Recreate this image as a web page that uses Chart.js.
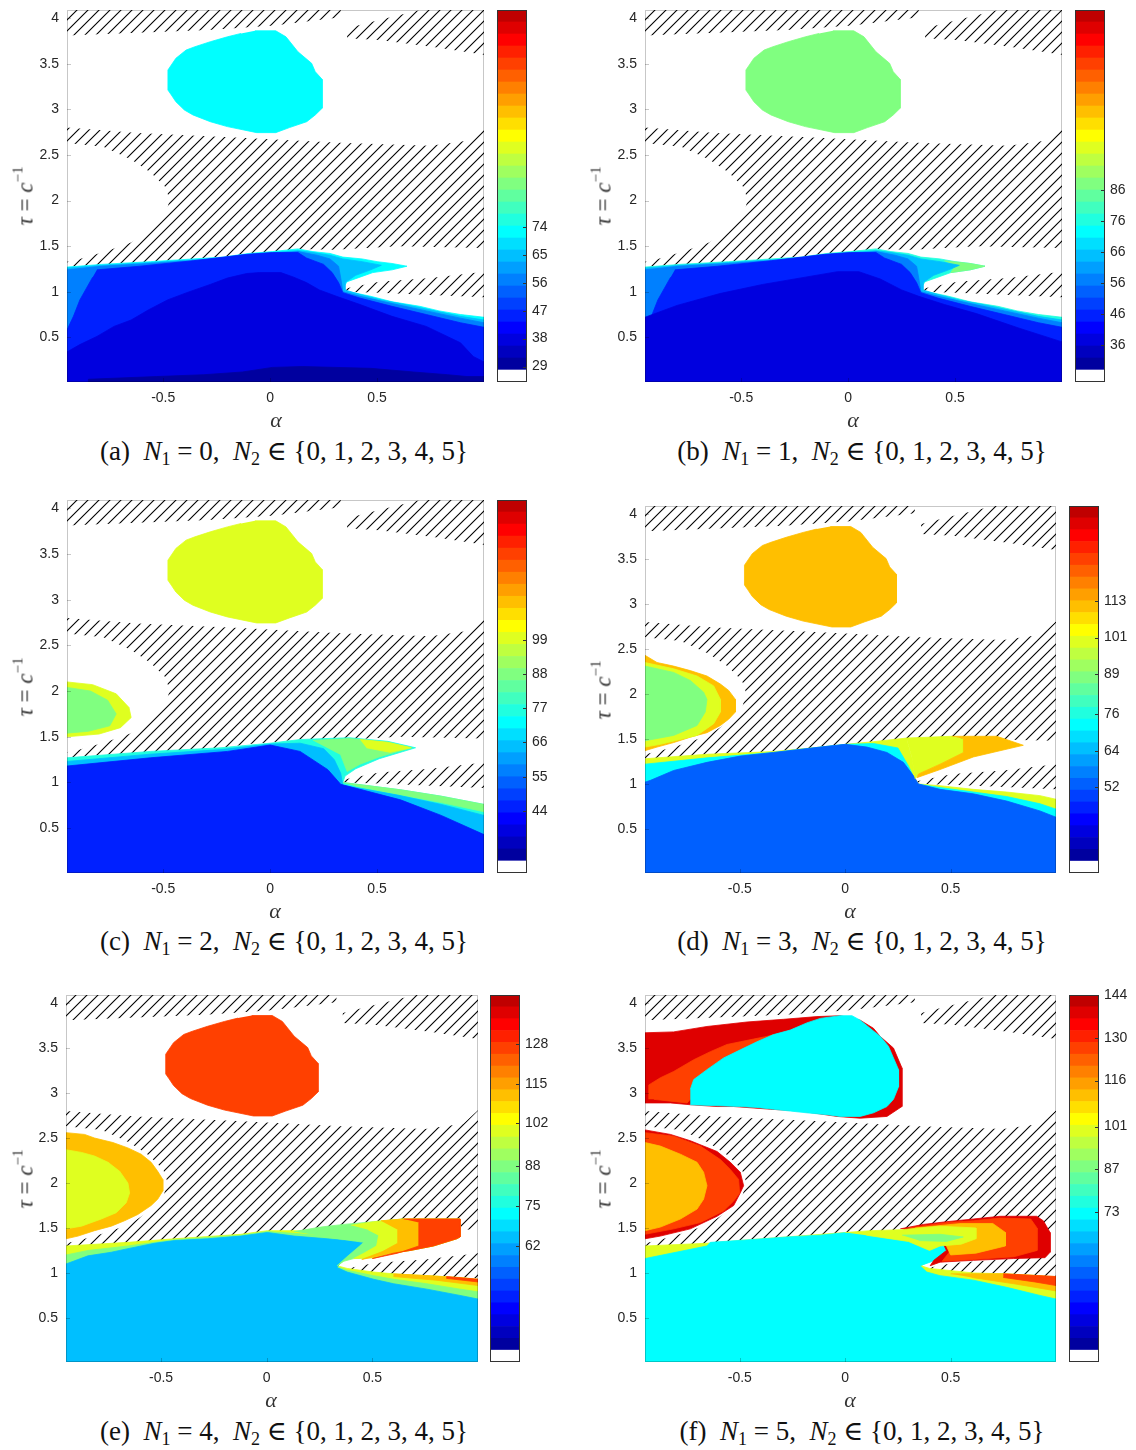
<!DOCTYPE html>
<html>
<head>
<meta charset="utf-8">
<title>Stability maps</title>
<script src="https://cdn.jsdelivr.net/npm/chart.js@4.4.1/dist/chart.umd.min.js"></script>
<style>
  body { margin: 0; background: #fff; }
  #page { position: relative; width: 1136px; height: 1450px; overflow: hidden; }
  #page canvas { position: absolute; }
  .cap { position: absolute; font-family: "Liberation Serif", "DejaVu Serif", serif; font-size: 27px; color: #111; white-space: nowrap; transform: translate(-50%, -50%); }
  .cap sub { font-size: 18px; vertical-align: -5px; }
  .xl { position: absolute; font-family: "Liberation Serif", serif; font-style: italic; font-size: 22px; color: #333; transform: translate(-50%, -50%); }
  .yl { position: absolute; font-family: "Liberation Serif", serif; font-size: 23px; color: #333; white-space: nowrap; transform: translate(-50%, -50%) rotate(-90deg); }
  .yl sup { font-size: 15px; vertical-align: 10px; }
</style>
</head>
<body>
<div id="page"></div>
<script>
// axes
const xRange = [-0.95, 1.0];
const yRange = [0.01, 4.09];
const xTicks = [-0.5, 0, 0.5];
const yTicks = [0.5, 1, 1.5, 2, 2.5, 3, 3.5, 4];

// colour bars (same range in every panel, ticks differ)
const cbRange = [24, 144];
const cbTicksA = [29, 38, 47, 56, 65, 74];
const cbTicksB = [36, 46, 56, 66, 76, 86];
const cbTicksC = [44, 55, 66, 77, 88, 99];
const cbTicksD = [52, 64, 76, 89, 101, 113];
const cbTicksE = [62, 75, 88, 102, 115, 128];
const cbTicksF = [73, 87, 101, 116, 130, 144];

// hatched regions, [alpha, tau]
const hatchTopLeft = [[-0.95,4.1],[0.33,4.1],[0.33,4.01],[0.02,3.92],[-0.29,3.87],[-0.95,3.81]];
const hatchTopRight = [[0.36,3.89],[0.51,3.98],[0.72,4.1],[1.0,4.1],[1.0,3.6],[0.78,3.68],[0.51,3.76],[0.36,3.78]];
const hatchMiddle = [[-0.95,2.80],[-0.62,2.74],[-0.14,2.69],[0.35,2.63],[0.75,2.60],[0.93,2.66],[1.0,2.81],[1.0,1.48],
  [0.6,1.50],[0.3,1.46],[0.13,1.47],[0.01,1.44],[-0.10,1.42],[-0.22,1.38],[-0.36,1.36],[-0.56,1.33],[-0.79,1.30],[-0.95,1.27],
  [-0.95,1.33],[-0.89,1.36],[-0.77,1.44],[-0.65,1.54],[-0.56,1.68],[-0.49,1.84],[-0.47,2.01],[-0.49,2.15],[-0.56,2.31],
  [-0.65,2.45],[-0.78,2.59],[-0.95,2.63]];
const hatchLower = [[0.34,1.03],[0.51,1.11],[0.75,1.15],[1.0,1.22],[1.0,0.94],[0.51,0.99],[0.34,1.0]];

// upper island (panels a-e)
const blobShape = [[-0.071,3.862],[0.026,3.862],[0.074,3.796],[0.130,3.632],[0.194,3.505],[0.211,3.413],[0.243,3.330],
  [0.243,3.012],[0.211,2.939],[0.171,2.865],[0.090,2.800],[0.026,2.745],[-0.063,2.745],[-0.200,2.811],[-0.280,2.865],
  [-0.361,2.939],[-0.401,2.993],[-0.441,3.084],[-0.462,3.158],[-0.478,3.212],[-0.478,3.432],[-0.441,3.560],[-0.393,3.651],
  [-0.352,3.687],[-0.280,3.742],[-0.200,3.796],[-0.136,3.833]];

// panel (a) lower surface layers
const surfA_env = [[-0.95,1.27],[-0.79,1.30],[-0.56,1.33],[-0.36,1.36],[-0.22,1.38],[-0.10,1.42],[0.01,1.44],[0.13,1.47],
  [0.20,1.44],[0.28,1.42],[0.34,1.38],[0.43,1.36],[0.50,1.33],[0.57,1.31],[0.64,1.28],[0.57,1.24],[0.48,1.21],[0.42,1.16],
  [0.36,1.11],[0.34,1.04],[0.34,1.01],[0.39,0.99],[0.47,0.95],[0.57,0.89],[0.70,0.84],[0.79,0.79],[0.89,0.75],[1.0,0.72],
  [1.0,0.0],[-0.95,0.0]];
const surfA_10 = [[-0.95,1.26],[-0.79,1.29],[-0.56,1.32],[-0.36,1.35],[-0.22,1.37],[-0.10,1.41],[0.01,1.43],[0.13,1.45],
  [0.20,1.43],[0.28,1.40],[0.34,1.36],[0.43,1.33],[0.52,1.29],[0.47,1.24],[0.40,1.18],[0.35,1.10],[0.35,1.02],[0.42,0.97],
  [0.52,0.91],[0.65,0.85],[0.79,0.78],[0.89,0.73],[1.0,0.69],[1.0,0.0],[-0.95,0.0]];
const surfA_8 = [[-0.95,1.24],[-0.79,1.28],[-0.56,1.31],[-0.36,1.34],[-0.10,1.40],[0.01,1.42],[0.13,1.44],[0.22,1.40],
  [0.28,1.36],[0.32,1.28],[0.33,1.15],[0.34,1.0],[0.42,0.95],[0.57,0.87],[0.73,0.79],[0.89,0.71],[1.0,0.66],[1.0,0.0],[-0.95,0.0]];
const surfA_5 = [[-0.81,1.24],[-0.61,1.28],[-0.36,1.34],[-0.11,1.41],[0.01,1.43],[0.13,1.43],[0.17,1.37],[0.25,1.30],
  [0.29,1.21],[0.32,1.10],[0.34,0.99],[0.42,0.93],[0.57,0.84],[0.73,0.75],[0.89,0.66],[1.0,0.61],[1.0,0.0],[-0.95,0.0],
  [-0.95,0.58],[-0.92,0.73],[-0.89,0.91],[-0.83,1.16]];
const surfA_3 = [[-0.95,0.34],[-0.89,0.42],[-0.81,0.51],[-0.73,0.62],[-0.65,0.69],[-0.57,0.80],[-0.48,0.91],[-0.39,0.99],
  [-0.28,1.08],[-0.20,1.15],[-0.11,1.20],[-0.05,1.21],[0.05,1.21],[0.11,1.16],[0.17,1.10],[0.23,1.02],[0.31,0.95],[0.42,0.86],
  [0.57,0.73],[0.73,0.62],[0.89,0.44],[0.95,0.29],[1.0,0.23],[1.0,0.0],[-0.95,0.0]];
const surfA_1 = [[-0.85,0.0],[-0.85,0.04],[-0.53,0.07],[-0.31,0.09],[-0.13,0.12],[0.01,0.17],[0.15,0.18],[0.47,0.16],
  [0.67,0.12],[0.83,0.09],[0.92,0.07],[1.0,0.07],[1.0,0.0]];

// panel (b)
const tipB = [[0.45,1.34],[0.57,1.31],[0.64,1.28],[0.57,1.24],[0.48,1.21],[0.50,1.28]];
const surfB_3 = [[-0.95,0.72],[-0.8,0.85],[-0.6,0.98],[-0.4,1.08],[-0.2,1.16],[-0.05,1.22],[0.05,1.22],[0.15,1.14],
  [0.25,1.02],[0.33,0.95],[0.45,0.86],[0.6,0.76],[0.8,0.6],[1.0,0.45],[1.0,0.0],[-0.95,0.0]];

// panel (c)
const surfC_env = [[-0.95,1.27],[-0.56,1.34],[-0.23,1.38],[0,1.43],[0.14,1.47],[0.37,1.49],[0.55,1.45],[0.68,1.38],
  [0.51,1.26],[0.40,1.15],[0.35,1.07],[0.34,1.0],[0.61,0.92],[0.8,0.85],[1.0,0.76],[1.0,0.0],[-0.95,0.0]];
const wedgeC16 = [[0.2,1.46],[0.37,1.48],[0.55,1.44],[0.66,1.38],[0.51,1.28],[0.42,1.2],[0.36,1.12],[0.33,1.3]];
const wedgeC19 = [[0.42,1.47],[0.55,1.44],[0.66,1.38],[0.56,1.33],[0.45,1.38]];
const bandC16 = [[0.34,1.0],[0.61,0.92],[0.8,0.85],[1.0,0.76],[1.0,0.68],[0.8,0.78],[0.6,0.87],[0.4,0.96]];
const surfC_10 = [[-0.95,1.23],[-0.56,1.31],[-0.23,1.36],[0,1.42],[0.14,1.43],[0.25,1.37],[0.3,1.25],[0.33,1.1],
  [0.34,0.97],[0.6,0.86],[0.8,0.76],[1.0,0.64],[1.0,0.0],[-0.95,0.0]];
const surfC_5 = [[-0.95,1.18],[-0.56,1.27],[-0.2,1.34],[0,1.41],[0.14,1.34],[0.27,1.14],[0.33,0.98],[0.61,0.81],
  [0.8,0.64],[1.0,0.43],[1.0,0.0],[-0.95,0.0]];
const bayC19 = [[-0.95,2.10],[-0.83,2.07],[-0.72,1.97],[-0.66,1.82],[-0.65,1.71],[-0.70,1.60],[-0.80,1.53],[-0.95,1.50]];
const bayC16 = [[-0.95,2.04],[-0.84,2.0],[-0.76,1.9],[-0.72,1.75],[-0.75,1.62],[-0.85,1.56],[-0.95,1.54]];

// panel (d)
const surfD_env = [[-0.95,1.28],[-0.656,1.33],[-0.34,1.36],[-0.118,1.41],[0,1.44],[0.134,1.47],[0.29,1.51],[0.316,1.3],
  [0.332,1.06],[0.347,1.0],[0.45,0.98],[0.608,0.94],[0.766,0.91],[0.924,0.87],[1.0,0.83],[1.0,0.0],[-0.95,0.0]];
const surfD_12 = [[-0.95,1.22],[-0.656,1.29],[-0.34,1.35],[-0.118,1.41],[0,1.44],[0.134,1.45],[0.25,1.4],[0.3,1.2],
  [0.34,1.0],[0.45,0.96],[0.608,0.91],[0.766,0.86],[0.924,0.78],[1.0,0.72],[1.0,0.0],[-0.95,0.0]];
const surfD_7 = [[-0.95,1.02],[-0.924,1.04],[-0.814,1.15],[-0.656,1.24],[-0.498,1.31],[-0.34,1.35],[-0.229,1.38],
  [-0.118,1.41],[0,1.44],[0.103,1.41],[0.198,1.35],[0.276,1.24],[0.324,1.09],[0.347,1.0],[0.45,0.94],[0.608,0.89],
  [0.766,0.81],[0.924,0.70],[1.0,0.63],[1.0,0.0],[-0.95,0.0]];
const wedgeD19 = [[0.29,1.51],[0.506,1.53],[0.561,1.50],[0.561,1.35],[0.45,1.22],[0.347,1.11],[0.332,1.06],[0.316,1.3]];
const wedgeD22 = [[0.506,1.53],[0.719,1.53],[0.845,1.43],[0.608,1.30],[0.45,1.16],[0.34,1.07],[0.347,1.11],[0.45,1.22],
  [0.561,1.35],[0.561,1.50]];
const bayD22 = [[-0.95,2.43],[-0.893,2.35],[-0.814,2.31],[-0.735,2.26],[-0.656,2.20],[-0.592,2.11],[-0.553,2.04],
  [-0.521,1.94],[-0.521,1.80],[-0.553,1.72],[-0.592,1.65],[-0.656,1.57],[-0.735,1.52],[-0.814,1.46],[-0.893,1.41],[-0.95,1.37]];
const bayD19 = [[-0.95,2.35],[-0.814,2.28],[-0.703,2.20],[-0.624,2.09],[-0.592,1.94],[-0.592,1.80],[-0.624,1.67],
  [-0.703,1.54],[-0.877,1.44],[-0.95,1.41]];
const bayD16 = [[-0.95,2.31],[-0.814,2.24],[-0.735,2.15],[-0.672,2.02],[-0.656,1.94],[-0.664,1.80],[-0.703,1.65],
  [-0.814,1.54],[-0.95,1.48]];

// panel (e)
const surfE_env = [[-0.95,1.30],[-0.657,1.34],[-0.437,1.38],[-0.123,1.43],[0.003,1.47],[0.129,1.47],[0.286,1.45],
  [0.459,1.40],[0.42,1.25],[0.36,1.13],[0.333,1.08],[0.381,1.05],[0.506,1.01],[0.601,0.99],[0.758,0.97],[0.915,0.95],
  [1.0,0.93],[1.0,0.0],[-0.95,0.0]];
const surfE_16 = [[-0.95,1.20],[-0.846,1.25],[-0.657,1.30],[-0.437,1.37],[-0.123,1.42],[0.003,1.46],[0.129,1.44],
  [0.286,1.41],[0.459,1.36],[0.42,1.24],[0.355,1.12],[0.333,1.07],[0.381,1.03],[0.506,0.97],[0.601,0.93],[0.758,0.88],
  [0.915,0.82],[1.0,0.79],[1.0,0.0],[-0.95,0.0]];
const bandE22 = [[0.6,0.99],[0.8,0.965],[1.0,0.93],[1.0,0.86],[0.8,0.92],[0.6,0.96]];
const bandE26 = [[0.85,0.96],[1.0,0.93],[1.0,0.90],[0.85,0.94]];
const surfE_10 = [[-0.95,1.10],[-0.846,1.19],[-0.736,1.23],[-0.657,1.27],[-0.532,1.33],[-0.437,1.36],[-0.28,1.38],
  [-0.123,1.41],[0.003,1.45],[0.129,1.41],[0.286,1.38],[0.459,1.34],[0.412,1.23],[0.349,1.12],[0.333,1.06],[0.381,1.01],
  [0.506,0.93],[0.601,0.88],[0.758,0.82],[0.915,0.75],[1.0,0.71],[1.0,0.0],[-0.95,0.0]];
const wedgeE16 = [[0.129,1.46],[0.255,1.51],[0.365,1.54],[0.506,1.57],[0.648,1.60],[0.915,1.60],[0.915,1.40],[0.899,1.38],
  [0.789,1.30],[0.679,1.25],[0.569,1.21],[0.506,1.17],[0.412,1.16],[0.365,1.13],[0.333,1.08],[0.38,1.18],[0.44,1.30],
  [0.459,1.34],[0.286,1.40]];
const wedgeE19 = [[0.40,1.53],[0.506,1.57],[0.648,1.60],[0.915,1.60],[0.915,1.40],[0.899,1.38],[0.789,1.30],[0.679,1.25],
  [0.569,1.21],[0.506,1.17],[0.412,1.16],[0.46,1.22],[0.52,1.30],[0.53,1.42],[0.48,1.48]];
const wedgeE22 = [[0.54,1.58],[0.648,1.60],[0.915,1.60],[0.915,1.40],[0.899,1.38],[0.789,1.30],[0.679,1.25],[0.569,1.21],
  [0.45,1.15],[0.55,1.24],[0.62,1.33],[0.62,1.48]];
const wedgeE26 = [[0.648,1.60],[0.915,1.60],[0.915,1.40],[0.899,1.38],[0.789,1.30],[0.679,1.25],[0.60,1.22],[0.5,1.16],
  [0.62,1.22],[0.72,1.30],[0.72,1.56]];
const bayE22 = [[-0.95,2.56],[-0.862,2.54],[-0.815,2.50],[-0.728,2.45],[-0.657,2.39],[-0.594,2.32],[-0.547,2.23],
  [-0.516,2.13],[-0.492,2.04],[-0.492,1.91],[-0.516,1.82],[-0.547,1.75],[-0.61,1.65],[-0.673,1.58],[-0.736,1.52],
  [-0.815,1.47],[-0.893,1.41],[-0.95,1.38]];
const bayE19 = [[-0.95,2.37],[-0.877,2.34],[-0.815,2.30],[-0.751,2.23],[-0.696,2.13],[-0.657,2.0],[-0.649,1.89],
  [-0.665,1.78],[-0.712,1.67],[-0.783,1.60],[-0.877,1.52],[-0.95,1.49]];

// panel (f)
const surfF_env = [[-0.95,1.30],[-0.656,1.33],[-0.45,1.37],[0,1.45],[0.292,1.42],[0.45,1.40],[0.55,1.35],[0.45,1.2],
  [0.36,1.08],[0.40,1.05],[0.608,1.0],[0.766,0.99],[0.924,0.97],[1.0,0.93],[1.0,0.0],[-0.95,0.0]];
const bandF22 = [[0.5,0.99],[0.75,0.99],[1.0,0.96],[1.0,0.80],[0.8,0.88],[0.6,0.95]];
const bandF26 = [[0.75,0.99],[1.0,0.96],[1.0,0.86],[0.9,0.9],[0.75,0.95]];
const surfF_12 = [[-0.95,1.16],[-0.656,1.30],[-0.64,1.34],[-0.45,1.37],[-0.276,1.40],[-0.118,1.42],[0.008,1.45],
  [0.134,1.43],[0.292,1.40],[0.45,1.38],[0.592,1.32],[0.529,1.23],[0.45,1.17],[0.403,1.12],[0.355,1.08],[0.387,1.01],
  [0.45,0.97],[0.608,0.92],[0.766,0.84],[0.924,0.75],[1.0,0.71],[1.0,0.0],[-0.95,0.0]];
const wedgeF29 = [[0.261,1.49],[0.371,1.54],[0.482,1.57],[0.608,1.60],[0.735,1.63],[0.908,1.63],[0.94,1.58],[0.972,1.45],
  [0.972,1.23],[0.948,1.17],[0.798,1.16],[0.608,1.14],[0.45,1.12],[0.403,1.08],[0.42,1.14],[0.48,1.25],[0.45,1.4]];
const wedgeF26 = [[0.3,1.50],[0.482,1.56],[0.608,1.58],[0.735,1.61],[0.88,1.60],[0.91,1.50],[0.91,1.25],[0.80,1.18],
  [0.608,1.15],[0.46,1.13],[0.5,1.25],[0.5,1.4]];
const wedgeF22 = [[0.33,1.50],[0.55,1.55],[0.70,1.55],[0.76,1.45],[0.76,1.30],[0.62,1.22],[0.5,1.2],[0.48,1.3]];
const wedgeF19 = [[0.0,1.45],[0.12,1.47],[0.261,1.48],[0.45,1.52],[0.62,1.50],[0.62,1.38],[0.55,1.32],[0.45,1.30],
  [0.40,1.25],[0.3,1.35],[0.1,1.42]];
const wedgeF16 = [[0.27,1.42],[0.45,1.43],[0.56,1.40],[0.48,1.35],[0.35,1.36]];
const bayF29 = [[-0.95,2.59],[-0.829,2.54],[-0.735,2.47],[-0.608,2.35],[-0.545,2.23],[-0.498,2.12],[-0.482,1.97],
  [-0.498,1.89],[-0.529,1.75],[-0.608,1.63],[-0.735,1.49],[-0.877,1.41],[-0.95,1.38]];
const bayF26 = [[-0.95,2.56],[-0.814,2.52],[-0.687,2.41],[-0.592,2.26],[-0.545,2.15],[-0.506,2.04],[-0.501,1.89],
  [-0.529,1.80],[-0.577,1.69],[-0.687,1.56],[-0.814,1.49],[-0.95,1.43]];
const bayF22 = [[-0.95,2.45],[-0.877,2.41],[-0.782,2.32],[-0.703,2.23],[-0.672,2.12],[-0.656,1.97],[-0.672,1.82],
  [-0.703,1.71],[-0.782,1.60],[-0.877,1.51],[-0.95,1.47]];
const topF29 = [[-0.95,3.67],[-0.814,3.68],[-0.656,3.74],[-0.466,3.79],[-0.292,3.82],[-0.134,3.85],[-0.024,3.86],
  [0.071,3.81],[0.134,3.72],[0.166,3.63],[0.229,3.50],[0.269,3.28],[0.269,2.85],[0.198,2.74],[0.071,2.72],[-0.039,2.74],
  [-0.213,2.80],[-0.355,2.82],[-0.529,2.85],[-0.608,2.85],[-0.735,2.87],[-0.829,2.89],[-0.95,2.89]];
const topF26 = [[-0.932,2.93],[-0.932,3.09],[-0.877,3.17],[-0.814,3.24],[-0.719,3.37],[-0.640,3.46],[-0.561,3.54],
  [-0.498,3.57],[-0.435,3.60],[-0.371,3.63],[-0.340,3.65],[-0.419,3.57],[-0.498,3.48],[-0.577,3.39],[-0.656,3.26],
  [-0.719,3.15],[-0.735,3.04],[-0.735,2.93],[-0.75,2.89],[-0.829,2.91],[-0.908,2.93]];
const topF12 = [[-0.735,3.04],[-0.719,3.15],[-0.656,3.26],[-0.577,3.39],[-0.498,3.48],[-0.419,3.57],[-0.340,3.65],
  [-0.261,3.70],[-0.182,3.78],[-0.118,3.83],[-0.024,3.86],[0.032,3.86],[0.071,3.81],[0.118,3.72],[0.166,3.63],
  [0.205,3.52],[0.229,3.39],[0.253,3.26],[0.253,3.07],[0.229,2.93],[0.198,2.85],[0.134,2.78],[0.071,2.74],[-0.024,2.74],
  [-0.087,2.76],[-0.182,2.78],[-0.261,2.80],[-0.340,2.82],[-0.419,2.84],[-0.498,2.85],[-0.735,2.87]];

// [colour level (1..30 of jet), polygon], drawn in order
const regionsA = [[12, surfA_env], [10, surfA_10], [8, surfA_8], [5, surfA_5], [3, surfA_3], [1, surfA_1], [12, blobShape]];
const regionsB = [[13, surfA_env], [16, tipB], [10, surfA_10], [8, surfA_8], [5, surfA_5], [3, surfB_3], [16, blobShape]];
const regionsC = [[13, surfC_env], [16, wedgeC16], [19, wedgeC19], [16, bandC16], [10, surfC_10], [5, surfC_5],
  [19, bayC19], [16, bayC16], [19, blobShape]];
const regionsD = [[19, surfD_env], [12, surfD_12], [7, surfD_7], [19, wedgeD19], [22, wedgeD22],
  [22, bayD22], [19, bayD19], [16, bayD16], [22, blobShape]];
const regionsE = [[19, surfE_env], [22, bandE22], [26, bandE26], [16, surfE_16], [10, surfE_10], [16, wedgeE16],
  [19, wedgeE19], [22, wedgeE22], [26, wedgeE26], [22, bayE22], [19, bayE19], [26, blobShape]];
const regionsF = [[19, surfF_env], [22, bandF22], [26, bandF26], [12, surfF_12], [29, wedgeF29], [26, wedgeF26],
  [22, wedgeF22], [19, wedgeF19], [16, wedgeF16], [29, bayF29], [26, bayF26], [22, bayF22],
  [29, topF29], [26, topF26], [12, topF12]];

const letters = ['a', 'b', 'c', 'd', 'e', 'f'];
const n1Values = [0, 1, 2, 3, 4, 5];
const allTicks = [cbTicksA, cbTicksB, cbTicksC, cbTicksD, cbTicksE, cbTicksF];
const allRegions = [regionsA, regionsB, regionsC, regionsD, regionsE, regionsF];

// page layout: plot box, colour bar box, caption/x-label/y-label centres
const boxes = [
  { plot: [67, 10, 484, 382], cb: [497, 10, 527, 382], cap: [284, 452], xl: [276, 420], yl: [24, 196] },
  { plot: [645, 10, 1062, 382], cb: [1075, 10, 1105, 382], cap: [862, 452], xl: [853, 420], yl: [602, 196] },
  { plot: [67, 500, 484, 873], cb: [497, 500, 527, 873], cap: [284, 942], xl: [275, 911], yl: [24, 687] },
  { plot: [645, 506, 1056, 873], cb: [1069, 506, 1099, 873], cap: [862, 942], xl: [850, 911], yl: [602, 690] },
  { plot: [66, 995, 478, 1362], cb: [490, 995, 520, 1362], cap: [284, 1432], xl: [271, 1400], yl: [24, 1179] },
  { plot: [645, 995, 1056, 1362], cb: [1069, 995, 1099, 1362], cap: [862, 1432], xl: [850, 1400], yl: [602, 1179] }
];
const PADT = 18;   // room above plot for half a tick label
const CBPAD = 14;

// MATLAB style jet(m)
function jet(m) {
  const n = Math.ceil(m / 4);
  const u = [];
  for (let i = 1; i <= n; i++) u.push(i / n);
  for (let i = 1; i < n; i++) u.push(1);
  for (let i = n; i >= 1; i--) u.push(i / n);
  const g0 = Math.ceil(n / 2) - (m % 4 === 1 ? 1 : 0);
  const out = [];
  for (let i = 0; i < m; i++) out.push([0, 0, 0]);
  u.forEach((v, k) => {
    const g = g0 + k + 1, r = g + n, b = g - n;
    if (g >= 1 && g <= m) out[g - 1][1] = v;
    if (r >= 1 && r <= m) out[r - 1][0] = v;
    if (b >= 1 && b <= m) out[b - 1][2] = v;
  });
  return out.map(c => `rgb(${Math.round(c[0] * 255)},${Math.round(c[1] * 255)},${Math.round(c[2] * 255)})`);
}
const cmap = ['#ffffff', ...jet(30)];

function makeHatch() {
  const t = document.createElement('canvas');
  t.width = 11; t.height = 11;
  const g = t.getContext('2d');
  g.strokeStyle = '#000';
  g.lineWidth = 1.1;
  g.beginPath();
  g.moveTo(-2, 13); g.lineTo(13, -2);
  g.moveTo(-2, 2); g.lineTo(2, -2);
  g.moveTo(9, 13); g.lineTo(13, 9);
  g.stroke();
  return g.createPattern(t, 'repeat');
}
const hatch = makeHatch();

Chart.defaults.font.family = '"Liberation Sans", Arial, sans-serif';
Chart.defaults.font.size = 14;
Chart.defaults.color = '#262626';

const framePlugin = {
  id: 'frame',
  afterDatasetsDraw(chart) {
    const { ctx, chartArea: a } = chart;
    ctx.save();
    ctx.strokeStyle = 'rgba(0,0,0,0.22)';
    ctx.lineWidth = 1;
    ctx.strokeRect(a.left + 0.5, a.top + 0.5, a.right - a.left - 1, a.bottom - a.top - 1);
    ctx.beginPath();
    chart.scales.x.ticks.forEach(t => {
      const x = Math.round(chart.scales.x.getPixelForValue(t.value)) + 0.5;
      ctx.moveTo(x, a.bottom); ctx.lineTo(x, a.bottom - 4);
    });
    chart.scales.y.ticks.forEach(t => {
      const y = Math.round(chart.scales.y.getPixelForValue(t.value)) + 0.5;
      ctx.moveTo(a.left, y); ctx.lineTo(a.left + 4, y);
    });
    ctx.stroke();
    ctx.restore();
  }
};

const cbarPlugin = {
  id: 'cbarFrame',
  afterDatasetsDraw(chart) {
    const { ctx, chartArea: a } = chart;
    ctx.save();
    ctx.strokeStyle = '#333';
    ctx.lineWidth = 1;
    ctx.strokeRect(a.left + 0.5, a.top + 0.5, a.right - a.left - 1, a.bottom - a.top - 1);
    ctx.beginPath();
    chart.scales.y.ticks.forEach(t => {
      const y = Math.round(chart.scales.y.getPixelForValue(t.value)) + 0.5;
      ctx.moveTo(a.right, y); ctx.lineTo(a.right - 4, y);
    });
    ctx.stroke();
    ctx.restore();
  }
};

const page = document.getElementById('page');

function addCanvas(left, top, w, h) {
  const c = document.createElement('canvas');
  c.width = w; c.height = h;
  c.style.left = left + 'px'; c.style.top = top + 'px';
  c.style.width = w + 'px'; c.style.height = h + 'px';
  page.appendChild(c);
  return c;
}

function drawPanel(i) {
  const box = boxes[i];
  const [L, T, R, B] = box.plot;
  const W = R - L, H = B - T;
  const canvas = addCanvas(L - 60, T - PADT, W + 68, H + PADT + 30);

  const shapes = [hatchTopLeft, hatchTopRight, hatchMiddle, hatchLower].map(p => ({ fill: hatch, line: 'rgba(0,0,0,0)', pts: p }))
    .concat(allRegions[i].map(([lv, p]) => ({ fill: cmap[lv], line: cmap[lv], pts: p })));

  const datasets = shapes.map((s, k) => ({
    data: s.pts.map(([x, y]) => ({ x, y })),
    showLine: true,
    fill: 'shape',
    backgroundColor: s.fill,
    borderColor: s.line,
    borderWidth: 0.8,
    pointRadius: 0,
    tension: 0,
    order: -k
  }));

  new Chart(canvas, {
    type: 'scatter',
    data: { datasets },
    options: {
      responsive: false,
      animation: false,
      events: [],
      layout: { padding: { left: 0, top: PADT, right: 8, bottom: 0 } },
      plugins: { legend: { display: false }, tooltip: { enabled: false } },
      scales: {
        x: {
          type: 'linear', min: xRange[0], max: xRange[1],
          afterBuildTicks: s => { s.ticks = xTicks.map(v => ({ value: v })); },
          afterFit: s => { s.height = 30; },
          grid: { display: false, drawTicks: false }, border: { display: false },
          ticks: { padding: 8, callback: v => String(v) }
        },
        y: {
          type: 'linear', min: yRange[0], max: yRange[1],
          afterBuildTicks: s => { s.ticks = yTicks.map(v => ({ value: v })); },
          afterFit: s => { s.width = 60; },
          grid: { display: false, drawTicks: false }, border: { display: false },
          ticks: { padding: 8, callback: v => String(v) }
        }
      }
    },
    plugins: [framePlugin]
  });

  // colour bar
  const [cl, ct, cr, cb] = box.cb;
  const cbCanvas = addCanvas(cl, ct - CBPAD, cr - cl + 42, cb - ct + 2 * CBPAD);
  const step = (cbRange[1] - cbRange[0]) / cmap.length;
  const cbSets = cmap.map((c, k) => ({
    data: [[cbRange[0] + k * step, cbRange[0] + (k + 1) * step]],
    backgroundColor: c,
    borderWidth: 0,
    barPercentage: 1,
    categoryPercentage: 1,
    grouped: false
  }));
  const ticks = allTicks[i];
  new Chart(cbCanvas, {
    type: 'bar',
    data: { labels: [''], datasets: cbSets },
    options: {
      responsive: false,
      animation: false,
      events: [],
      layout: { padding: { left: 0, top: CBPAD, right: 0, bottom: CBPAD } },
      plugins: { legend: { display: false }, tooltip: { enabled: false } },
      scales: {
        x: { display: false },
        y: {
          position: 'right', min: cbRange[0], max: cbRange[1],
          afterBuildTicks: s => { s.ticks = ticks.map(v => ({ value: v })); },
          afterFit: s => { s.width = 42; },
          grid: { display: false, drawTicks: false }, border: { display: false },
          ticks: { padding: 5 }
        }
      }
    },
    plugins: [cbarPlugin]
  });

  // texts
  const cap = document.createElement('div');
  cap.className = 'cap';
  cap.style.left = box.cap[0] + 'px'; cap.style.top = box.cap[1] + 'px';
  cap.innerHTML = `(${letters[i]})&nbsp; <i>N</i><sub>1</sub> = ${n1Values[i]}, &nbsp;<i>N</i><sub>2</sub> ∈ {0, 1, 2, 3, 4, 5}`;
  page.appendChild(cap);

  const xl = document.createElement('div');
  xl.className = 'xl';
  xl.style.left = box.xl[0] + 'px'; xl.style.top = box.xl[1] + 'px';
  xl.textContent = 'α';
  page.appendChild(xl);

  const yl = document.createElement('div');
  yl.className = 'yl';
  yl.style.left = box.yl[0] + 'px'; yl.style.top = box.yl[1] + 'px';
  yl.innerHTML = '<i>τ</i> = <i>c</i><sup>−1</sup>';
  page.appendChild(yl);
}

for (let i = 0; i < 6; i++) drawPanel(i);
</script>
</body>
</html>
